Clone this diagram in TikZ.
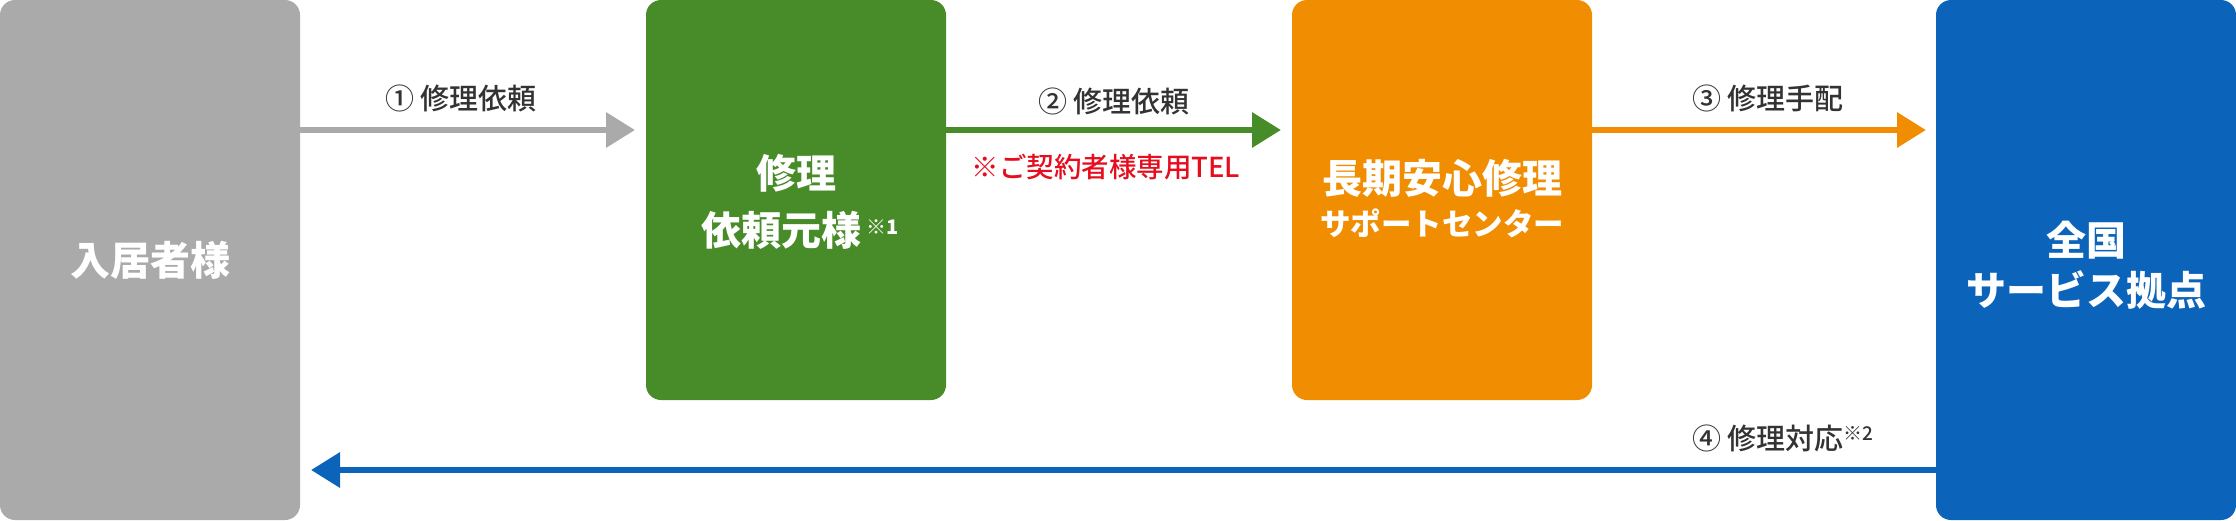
\documentclass[tikz,border=0pt]{standalone}
\usepackage{fontspec}
\setmainfont{Noto Sans CJK JP}
\newfontfamily\jpmed{Noto Sans CJK JP Medium}
\usetikzlibrary{arrows.meta,calc}
\definecolor{cgray}{HTML}{AAAAAA}
\definecolor{cgreen}{HTML}{488C2A}
\definecolor{corange}{HTML}{F08D00}
\definecolor{cblue}{HTML}{0C64BA}
\definecolor{cred}{HTML}{E60E1E}
\definecolor{ctext}{HTML}{333333}
\begin{document}
\begin{tikzpicture}[x=1pt,y=-1pt,
  box/.style={rounded corners=15pt,inner sep=0pt,outer sep=0pt,minimum width=300pt},
  boxtext/.style={text=white,font=\fontsize{40}{40}\selectfont\bfseries,inner sep=0pt},
  boxsub/.style={text=white,font=\fontsize{30.5}{30.5}\selectfont\bfseries,inner sep=0pt},
  lbl/.style={text=ctext,font=\fontsize{29}{29}\selectfont\jpmed,inner sep=0pt},
  note/.style={text=cred,font=\fontsize{27.5}{27.5}\selectfont\jpmed,inner sep=0pt},
  arr/.style={line width=6.5pt,-{Triangle[length=29pt,width=34pt]}}]
\useasboundingbox (0,0) rectangle (2236,520);
% boxes
\node[box,fill=cgray,minimum height=520pt] (resident) at (150,260) {};
\node[box,fill=cgreen,minimum height=400pt] (request) at (796,200) {};
\node[box,fill=corange,minimum height=400pt] (center) at (1442,200) {};
\node[box,fill=cblue,minimum height=520pt] (service) at (2086,260) {};
% box texts
\node[boxtext] (t-res) at (150,260) {入居者様};
\node[boxtext] (t-req1) at (796,173) {修理};
\node[boxtext] (t-req2) at (800,230) {依頼元様\hspace{5pt}\raisebox{11pt}{\fontsize{20}{20}\selectfont ※1}};
\node[boxtext] (t-cen1) at (1442,178) {長期安心修理};
\node[boxsub] (t-cen2) at (1442,223) {サポートセンター};
\node[boxtext] (t-srv1) at (2086,240) {全国};
\node[boxtext] (t-srv2) at (2086,290) {サービス拠点};
% connectors
\coordinate (a1s) at ($(resident.north east)+(0,130)$);
\coordinate (a1e) at ($(request.north west)+(-11,130)$);
\coordinate (a2s) at ($(request.north east)+(0,130)$);
\coordinate (a2e) at ($(center.north west)+(-11,130)$);
\coordinate (a3s) at ($(center.north east)+(0,130)$);
\coordinate (a3e) at ($(service.north west)+(-10,130)$);
\coordinate (a4s) at ($(service.north west)+(0,470)$);
\coordinate (a4e) at ($(resident.north east)+(11,470)$);
\draw[arr,cgray] (a1s) -- (a1e);
\draw[arr,cgreen] (a2s) -- (a2e);
\draw[arr,corange] (a3s) -- (a3e);
\draw[arr,cblue] (a4s) -- (a4e);
% labels
\node[lbl] (l1) at (461,98) {① 修理依頼};
\node[lbl] (l2) at (1114,101) {② 修理依頼};
\node[note] (n2) at (1106,167) {※ご契約者様専用TEL};
\node[lbl] (l3) at (1768,98) {③ 修理手配};
\node[lbl] (l4) at (1783,438) {④ 修理対応\raisebox{9pt}{\fontsize{19}{19}\selectfont ※2}};
\end{tikzpicture}
\end{document}
